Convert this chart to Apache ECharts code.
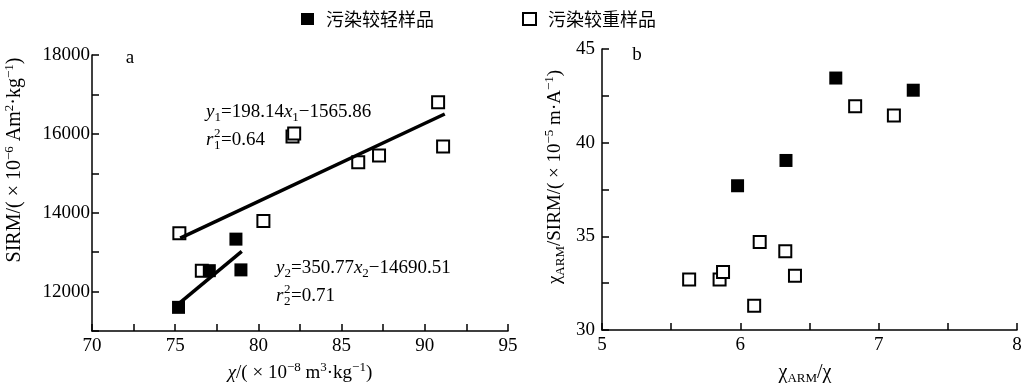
<!DOCTYPE html>
<html><head><meta charset="utf-8">
<script src="https://cdn.jsdelivr.net/npm/echarts@6/dist/echarts.min.js"></script>
<style>html,body{margin:0;padding:0;background:#fff}#c{width:1028px;height:387px}</style>
</head><body><div id="c"></div>
<script>
// Panel a: chi vs SIRM
const lightA = [[75.2,11600],[77.05,12530],[78.65,13330],[78.95,12550]];
const heavyA = [[75.25,13480],[76.6,12530],[80.3,13790],[82.05,15930],[82.15,16010],[86.0,15280],[87.25,15450],[90.8,16800],[91.1,15680]];
const fitHeavyA = [[75.3,13354],[91.2,16504]];
const fitLightA = [[75.2,11687],[79.0,13020]];
// Panel b: chiARM/chi vs chiARM/SIRM
const lightB = [[5.98,37.7],[6.33,39.05],[6.69,43.45],[7.25,42.8]];
const heavyB = [[5.63,32.7],[5.85,32.7],[5.875,33.1],[6.1,31.3],[6.14,34.7],[6.325,34.2],[6.395,32.9],[6.83,41.95],[7.11,41.45]];
const legendNames = ['污染较轻样品','污染较重样品'];

const SERIF = '"Liberation Serif","DejaVu Serif",serif';
const chart = echarts.init(document.getElementById('c'));
const axisCommon = {
  type: 'value', splitLine: {show: false},
  axisLine: {show: true, onZero: false, lineStyle: {color: '#000', width: 1.5}},
  axisTick: {show: true, inside: true, length: 7, lineStyle: {color: '#000', width: 1.5}}
};
function ax(extra) { return Object.assign({}, JSON.parse(JSON.stringify(axisCommon)), extra); }
function mkRich(fs) {
  return {
    n: {fontFamily: SERIF, fontSize: fs, lineHeight: 24, verticalAlign: 'middle'},
    i: {fontFamily: SERIF, fontSize: fs, fontStyle: 'italic', lineHeight: 24, verticalAlign: 'middle'},
    sup: {fontFamily: SERIF, fontSize: 13, lineHeight: 24, verticalAlign: 'top'},
    sub: {fontFamily: SERIF, fontSize: 13, lineHeight: 24, verticalAlign: 'bottom'}
  };
}
function txt(x, y, text, rot, align, fs) {
  return {type: 'text', x: x, y: y, rotation: rot || 0,
    style: {text: text, rich: mkRich(fs || 19), fill: '#000', font: (fs || 19) + 'px ' + SERIF,
      align: align || 'center', verticalAlign: 'middle'}};
}
function rsq(x, y, idx, val) {
  return [
    {type:'text', x:x, y:y, style:{text:'r', fill:'#000', font:'italic 19px '+SERIF, align:'left', verticalAlign:'middle'}},
    {type:'text', x:x+8, y:y-6, style:{text:'2', fill:'#000', font:'13px '+SERIF, align:'left', verticalAlign:'middle'}},
    {type:'text', x:x+8, y:y+6, style:{text:idx, fill:'#000', font:'13px '+SERIF, align:'left', verticalAlign:'middle'}},
    {type:'text', x:x+15, y:y, style:{text:'=' + val, fill:'#000', font:'19px '+SERIF, align:'left', verticalAlign:'middle'}}
  ];
}
const openStyle = {color: '#fff', borderColor: '#000', borderWidth: 2, opacity: 1};
const fillStyle = {color: '#000', borderColor: '#000', borderWidth: 0, opacity: 1};
const lab = (m, f) => ({color:'#000', fontFamily: SERIF, fontSize: 19, margin: m, formatter: f});

chart.setOption({
  animation: false,
  backgroundColor: '#fff',
  legend: {
    data: [{name: legendNames[0], itemStyle: fillStyle}, {name: legendNames[1], itemStyle: openStyle}],
    left: 296, top: 5, itemGap: 88, itemWidth: 13, itemHeight: 12, icon: 'rect',
    textStyle: {fontFamily: '"Noto Sans CJK SC",sans-serif', fontSize: 18, color: '#000', padding: [0,0,0,7]}
  },
  grid: [
    {left: 92, right: 520, top: 55, bottom: 56, containLabel: false, outerBoundsMode: 'none'},
    {left: 602, right: 11, top: 49, bottom: 57, containLabel: false, outerBoundsMode: 'none'}
  ],
  xAxis: [
    ax({gridIndex: 0, min: 70, max: 95, interval: 2.5, axisLabel: lab(6, v => (v % 5 === 0 ? String(v) : ''))}),
    ax({gridIndex: 1, min: 5, max: 8, interval: 0.5, axisLabel: lab(6, v => (Math.abs(v - Math.round(v)) < 1e-9 ? String(v) : ''))})
  ],
  yAxis: [
    ax({gridIndex: 0, min: 11000, max: 18000, interval: 1000, axisLabel: lab(2, v => (v % 2000 === 0 && v >= 12000 ? String(v) : ''))}),
    ax({gridIndex: 1, min: 30, max: 45, interval: 2.5, axisLabel: lab(7, v => (v % 5 === 0 ? String(v) : ''))})
  ],
  series: [
    {type: 'scatter', name: legendNames[1], xAxisIndex: 0, yAxisIndex: 0, data: heavyA, symbol: 'rect', symbolSize: 12, itemStyle: openStyle, z: 3},
    {type: 'scatter', name: legendNames[0], xAxisIndex: 0, yAxisIndex: 0, data: lightA, symbol: 'rect', symbolSize: 13, itemStyle: fillStyle, z: 4},
    {type: 'line', xAxisIndex: 0, yAxisIndex: 0, data: fitHeavyA, showSymbol: false, symbol: 'none', lineStyle: {color: '#000', width: 3.5}, z: 5},
    {type: 'line', xAxisIndex: 0, yAxisIndex: 0, data: fitLightA, showSymbol: false, symbol: 'none', lineStyle: {color: '#000', width: 3.5}, z: 5},
    {type: 'scatter', name: legendNames[1], xAxisIndex: 1, yAxisIndex: 1, data: heavyB, symbol: 'rect', symbolSize: 12, itemStyle: openStyle, z: 3},
    {type: 'scatter', name: legendNames[0], xAxisIndex: 1, yAxisIndex: 1, data: lightB, symbol: 'rect', symbolSize: 13, itemStyle: fillStyle, z: 4}
  ],
  graphic: [
    txt(130, 58, '{n|a}'),
    txt(637, 55, '{n|b}'),
    txt(15, 160, '{n|SIRM/( × 10}{sup|−6}{n| Am}{sup|2}{n|·kg}{sup|−1}{n|)}', Math.PI / 2, 'center', 20),
    txt(300, 373, '{i|χ}{n|/( × 10}{sup|−8}{n| m}{sup|3}{n|·kg}{sup|−1}{n|)}', 0, 'center', 19),
    txt(805, 373, '{n|χ}{sub|ARM}{n|/χ}', 0, 'center', 20),
    txt(555, 177, '{n|χ}{sub|ARM}{n|/SIRM/( × 10}{sup|−5}{n| m·A}{sup|−1}{n|)}', Math.PI / 2, 'center', 19),
    txt(206, 112, '{i|y}{sub|1}{n|=198.14}{i|x}{sub|1}{n|−1565.86}', 0, 'left', 19),
    txt(276, 268, '{i|y}{sub|2}{n|=350.77}{i|x}{sub|2}{n|−14690.51}', 0, 'left', 19)
  ].concat(rsq(206, 140, '1', '0.64')).concat(rsq(276, 296, '2', '0.71'))
});
</script></body></html>
